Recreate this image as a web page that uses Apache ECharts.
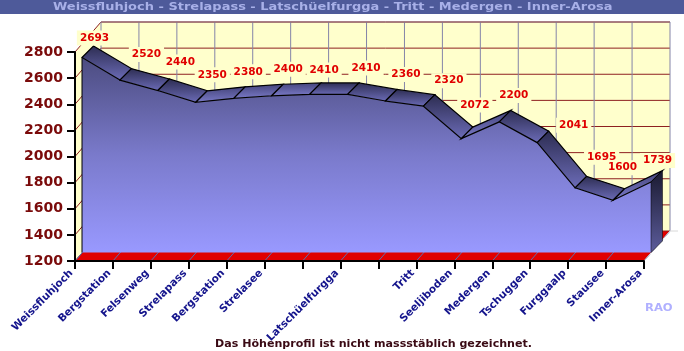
<!DOCTYPE html>
<html>
<head>
<meta charset="utf-8">
<title>Höhenprofil</title>
<script src="https://cdn.jsdelivr.net/npm/echarts@6/dist/echarts.min.js"></script>
<style>
    html, body { margin: 0; padding: 0; background: #fff; }
    #chart { width: 684px; height: 351px; }
</style>
</head>
<body>
<div id="chart"></div>
<script>
    // Stationen und Hoehen (m)
    let stations = ['Weissfluhjoch', 'Bergstation', 'Felsenweg', 'Strelapass', 'Bergstation', 'Strelasee', '',
        'Latschüelfurgga', '', 'Tritt', 'Seeljiboden', 'Medergen', 'Tschuggen', 'Furggaalp', 'Stausee', 'Inner-Arosa'];
    let elevations = [2693, 2520, 2440, 2350, 2380, 2400, 2410, 2410, 2360, 2320, 2072, 2200, 2041, 1695, 1600, 1739];
    let yTicks = [1200, 1400, 1600, 1800, 2000, 2200, 2400, 2600, 2800];

    // 3D depth offsets in px, relative to the axes
    const FRONT = [7, -8.5];
    const BACK = [18.5, -20];
    const WALL = [26, -30];
    // label positions relative to the back edge of the ribbon
    const labelShiftX = [1, 15, 11, 5, 3, 5, 3, 7, 9, 14, 2, 3, 25, 15, -2, -5];
    const labelShiftY = [-8, -14, -17, -16, -15, -15, -13, -15, -15, -14, -22, -15, -6, -19, -21, -10];

    const last = stations.length - 1;
    const yMin = yTicks[0];
    const yMax = yTicks[yTicks.length - 1];

    let myChart = echarts.init(document.getElementById('chart'), null, {renderer: 'canvas'});

    function shift(p, off) {
        return [p[0] + off[0], p[1] + off[1]];
    }

    function line(a, b, color, width) {
        return {
            type: 'line',
            shape: {x1: a[0], y1: a[1], x2: b[0], y2: b[1]},
            style: {stroke: color, lineWidth: width || 1}
        };
    }

    function poly(points, style) {
        return {type: 'polygon', shape: {points: points}, style: style};
    }

    function vGradient(stops) {
        return {
            type: 'linear', x: 0, y: 0, x2: 0, y2: 1,
            colorStops: stops.map((c, i) => ({offset: i / (stops.length - 1), color: c}))
        };
    }

    // back wall, side wall, floor and their grid lines
    function renderWalls(params, api) {
        let children = [];
        let bl = api.coord([0, yMin]);
        let tl = api.coord([0, yMax]);
        let br = api.coord([last, yMin]);
        let tr = api.coord([last, yMax]);

        children.push(poly([shift(bl, WALL), shift(tl, WALL), shift(tr, WALL), shift(br, WALL)], {fill: '#ffffcc'}));
        children.push(poly([bl, tl, shift(tl, WALL), shift(bl, WALL)], {fill: '#ffffcc'}));
        children.push(poly([bl, shift(bl, WALL), shift(br, WALL), br], {fill: '#e00000'}));

        yTicks.forEach((v) => {
            let p = api.coord([0, v]);
            let q = api.coord([last, v]);
            children.push(line(shift(p, WALL), shift(q, WALL), '#8e2020'));
            children.push(line(p, shift(p, WALL), '#8e2020'));
        });
        stations.forEach((s, i) => {
            let p = api.coord([i, yMin]);
            let q = api.coord([i, yMax]);
            children.push(line(shift(p, WALL), shift(q, WALL), '#8484a8'));
            children.push(line(p, shift(p, WALL), '#5a6fb0'));
        });
        children.push(line(shift(tl, WALL), shift(tr, WALL), '#8a6a7a'));
        children.push(line(br, shift(br, WALL), '#d8d8d8'));
        children.push(line(shift(br, WALL), shift(br, [WALL[0] + 8, WALL[1]]), '#d8d8d8'));
        return {type: 'group', children: children};
    }

    // the big front face of the profile
    function renderFront(params, api) {
        let top = elevations.map((v, i) => shift(api.coord([i, v]), FRONT));
        let left = shift(api.coord([0, yMin]), FRONT);
        let right = shift(api.coord([last, yMin]), FRONT);
        return {
            type: 'group',
            children: [
                poly([left].concat(top, [right]), {
                    fill: vGradient(['#4c4c80', '#7a7acb', '#9999ff'])
                }),
                line(left, top[0], '#000', 1)
            ]
        };
    }

    // the top ribbon, one quad per leg of the route
    function renderRibbon(params, api) {
        let i = params.dataIndex;
        let children = [];
        if (i < last) {
            let a = api.coord([i, elevations[i]]);
            let b = api.coord([i + 1, elevations[i + 1]]);
            let rising = elevations[i + 1] > elevations[i];
            children.push(poly([shift(a, FRONT), shift(a, BACK), shift(b, BACK), shift(b, FRONT)], {
                fill: vGradient(rising ? ['#44447a', '#7a7ac8'] : ['#2c2c50', '#6c6cb8']),
                stroke: '#000',
                lineWidth: 1.2
            }));
        } else {
            // right end of the profile
            let a = api.coord([i, elevations[i]]);
            let f = api.coord([i, yMin]);
            children.push(poly([shift(a, FRONT), shift(a, BACK), shift(f, BACK), shift(f, FRONT)], {
                fill: vGradient(['#1a1a30', '#5c5c9c']),
                stroke: '#000',
                lineWidth: 0.5
            }));
        }
        return {type: 'group', children: children};
    }

    // elevation labels
    function renderLabel(params, api) {
        let i = params.dataIndex;
        let p = shift(api.coord([i, elevations[i]]), BACK);
        return {
            type: 'text',
            x: p[0] + labelShiftX[i],
            y: p[1] + labelShiftY[i],
            style: {
                text: String(elevations[i]),
                fill: '#e00000',
                font: 'bold 10.5px "DejaVu Sans"',
                align: 'center',
                verticalAlign: 'middle',
                backgroundColor: '#ffffcc',
                padding: [2, 3]
            }
        };
    }

    let pointData = elevations.map((v, i) => [i, v]);

    function customSeries(fn, data) {
        return {
            type: 'custom',
            renderItem: fn,
            data: data,
            encode: {x: 0, y: 1},
            clip: false,
            silent: true
        };
    }

    // the reference spaces its captions out, so stretch them a bit
    function caption(text, x, y, stretch, font, color) {
        return {
            type: 'text',
            x: x,
            y: y,
            scaleX: stretch,
            z: 10,
            style: {text: text, fill: color, font: font, verticalAlign: 'middle'}
        };
    }

    let option = {
        animation: false,
        backgroundColor: '#fff',
        graphic: [{
            type: 'rect',
            z: -1,
            shape: {x: 0, y: 0, width: 684, height: 14},
            style: {fill: '#4e5a9a'}
        },
            caption('Weissfluhjoch - Strelapass - Latschüelfurgga - Tritt - Medergen - Inner-Arosa',
                53, 7, 1.18, 'bold 11px "DejaVu Sans"', '#a8b0e8'),
            caption('Das Höhenprofil ist nicht massstäblich gezeichnet.',
                215, 344, 1.108, 'bold 10px "DejaVu Sans"', '#3a0a14'),
            caption('RAO', 645, 308, 1.1, 'bold 10.5px "DejaVu Sans"', '#b0b0ff')
        ],
        grid: {left: 75, top: 52, width: 569, height: 209, containLabel: false},
        xAxis: {
            type: 'category',
            data: stations,
            boundaryGap: false,
            z: 5,
            axisLine: {lineStyle: {color: '#000', width: 2}},
            axisTick: {show: true, length: 8, interval: 0, lineStyle: {color: '#000', width: 2}},
            splitLine: {show: false},
            axisLabel: {
                interval: 0,
                rotate: 45,
                margin: 7,
                padding: [0, 5, 0, 0],
                color: '#14148c',
                fontFamily: 'DejaVu Sans',
                fontWeight: 'bold',
                fontSize: 10.5
            }
        },
        yAxis: {
            type: 'value',
            min: yMin,
            max: yMax,
            interval: 200,
            z: 5,
            axisLine: {show: true, lineStyle: {color: '#000', width: 2}},
            axisTick: {show: true, length: 8, lineStyle: {color: '#000', width: 2}},
            splitLine: {show: false},
            axisLabel: {
                margin: 12,
                color: '#7a0a0a',
                fontFamily: 'DejaVu Sans',
                fontWeight: 'bold',
                fontSize: 14,
                formatter: (v) => String(v)
            }
        },
        series: [
            customSeries(renderWalls, [pointData[0]]),
            customSeries(renderFront, [pointData[0]]),
            customSeries(renderRibbon, pointData),
            customSeries(renderLabel, pointData)
        ]
    };
    myChart.setOption(option);
</script>
</body>
</html>
